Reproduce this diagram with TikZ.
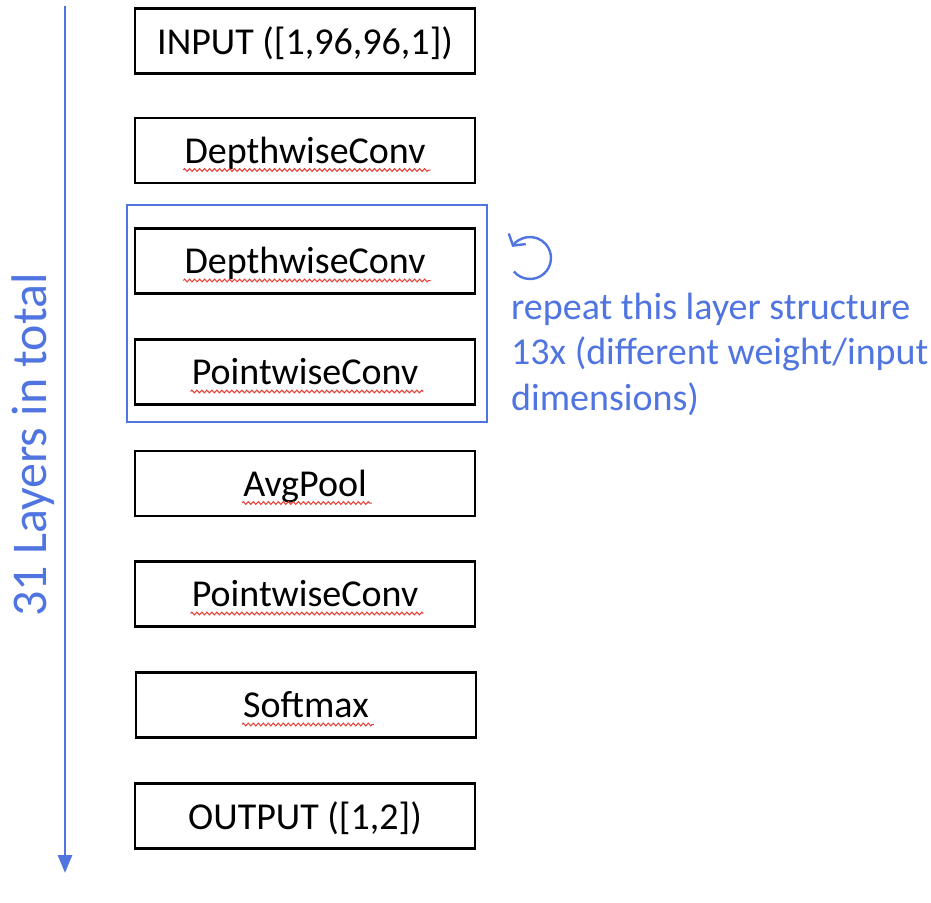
\documentclass[tikz,border=0pt]{standalone}
\usepackage{fontspec}
\setmainfont{Carlito}
\usetikzlibrary{decorations.pathmorphing,arrows.meta,calc}
\definecolor{myblue}{RGB}{80,117,225}
\definecolor{squigred}{RGB}{232,60,50}
\begin{document}
\begin{tikzpicture}[x=1pt,y=-1pt,
  layer/.style={draw=black,line width=2.2pt,minimum width=340pt,minimum height=65pt,inner sep=0pt},
  ltext/.style={inner sep=0pt,anchor=base,font=\fontsize{38}{44}\selectfont,text=black},
  squig/.style={draw=squigred,line width=1pt,decorate,decoration={zigzag,segment length=5pt,amplitude=1.4pt}},
  bluetext/.style={inner sep=0pt,anchor=base west,text=myblue,font=\fontsize{38}{44}\selectfont}]
\useasboundingbox (0,0) rectangle (931,902);
% layer boxes
\node[layer] (in)   at (305,41)    {};
\node[layer] (d1)   at (305,150.5) {};
\node[layer] (d2)   at (305,261)   {};
\node[layer] (p1)   at (305,372)   {};
\node[layer] (avg)  at (305,483.5) {};
\node[layer] (p2)   at (305,594)   {};
\node[layer] (soft) at (306,705)   {};
\node[layer] (out)  at (305,816)   {};
% texts
\node[ltext] (int)   at ($(in)+(0,13)$)   {INPUT ([1,96,96,1])};
\node[ltext] (d1t)   at ($(d1)+(0,12.5)$) {DepthwiseConv};
\node[ltext] (d2t)   at ($(d2)+(0,12.5)$) {DepthwiseConv};
\node[ltext] (p1t)   at ($(p1)+(0,12.5)$) {PointwiseConv};
\node[ltext] (avgt)  at ($(avg)+(0,12.5)$){AvgPool};
\node[ltext] (p2t)   at ($(p2)+(0,12.5)$) {PointwiseConv};
\node[ltext] (softt) at ($(soft)+(0,12.5)$){Softmax};
\node[ltext] (outt)  at ($(out)+(0,13)$)  {OUTPUT ([1,2])};
% spell-check squiggles
\foreach \t in {d1t,d2t,p1t,avgt,p2t,softt}
  \draw[squig] ($(\t.base west)+(-1,7)$) -- ($(\t.base east)+(5,7)$);
% group box
\node[draw=myblue,line width=1.5pt,minimum width=360pt,minimum height=217pt,inner sep=0pt] (grp) at (307,313.5) {};
% repeat icon
\coordinate (rc) at (530,258);
\draw[myblue,line width=2.4pt,-{Straight Barb[length=8pt,width=20pt]}] ($(rc)+(140:21)$) arc[start angle=140,end angle=-148,radius=21];
% repeat text
\node[bluetext] (r1) at (511,319) {repeat this layer structure};
\node[bluetext] (r2) at (511,364.5) {13x (different weight/input};
\node[bluetext] (r3) at (511,410) {dimensions)};
% total arrow
\coordinate (atop) at (65,6);
\coordinate (abot) at (65,873);
\draw[myblue,line width=2.8pt,-{Triangle[length=18pt,width=14pt]}] (atop) -- (abot);
\node[rotate=90,inner sep=0pt,text=myblue,font=\fontsize{50}{58}\selectfont] (lbl) at (33,445) {31 Layers in total};
\end{tikzpicture}
\end{document}
